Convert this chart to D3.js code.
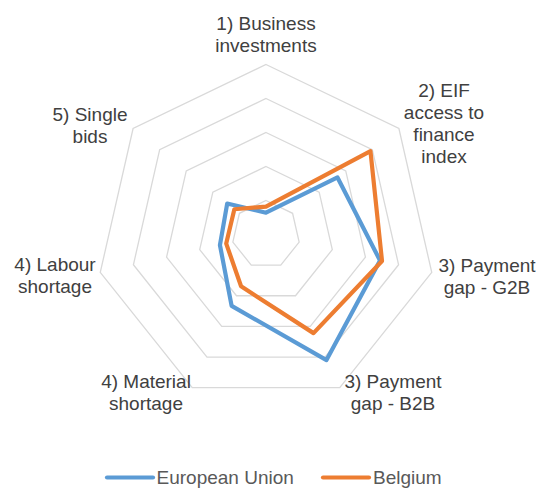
<!DOCTYPE html>
<html>
<head>
<meta charset="utf-8">
<script src="https://cdn.jsdelivr.net/npm/d3@7/dist/d3.min.js"></script>
<style>
  html, body { margin: 0; padding: 0; background: #fff; }
  svg { display: block; font-family: "Liberation Sans", Arial, sans-serif; }
</style>
</head>
<body>
<svg id="chart" width="540" height="488"></svg>
<script>
// axis labels (one entry per spoke, lines split)
const categories = [
  ['1) Business', 'investments'],
  ['2) EIF', 'access to', 'finance', 'index'],
  ['3) Payment', 'gap - G2B'],
  ['3) Payment', 'gap - B2B'],
  ['4) Material', 'shortage'],
  ['4) Labour', 'shortage'],
  ['5) Single', 'bids']
];
const euValues = [0.64, 2.69, 3.44, 4.10, 2.33, 1.39, 1.46];
const beValues = [0.82, 3.93, 3.50, 3.22, 1.69, 1.20, 1.19];
const seriesNames = ['European Union', 'Belgium'];
const gridLevels = [1, 2, 3, 4, 5];

// where the category text sits (centre x, first baseline)
const labelPos = [
  [266, 30], [444, 97], [487, 272], [393, 388], [146, 388], [55, 271], [90, 121]
];

const width = 540, height = 488;
const cx = 266, cy = 234.5, R = 170;
const colors = ['#5b9bd5', '#ed7d31'];

const svg = d3.select('#chart');

const r = d3.scaleLinear().domain([0, 5]).range([0, R]);
const n = categories.length;

const radial = d3.lineRadial()
  .angle((d, i) => i * 2 * Math.PI / n)
  .radius(d => r(d))
  .curve(d3.curveLinearClosed);

const g = svg.append('g').attr('transform', `translate(${cx},${cy})`);

// heptagon grid
g.selectAll('path.grid')
  .data(gridLevels)
  .enter().append('path')
    .attr('class', 'grid')
    .attr('d', lvl => radial(d3.range(n).map(() => lvl)))
    .attr('fill', 'none')
    .attr('stroke', '#d9d9d9')
    .attr('stroke-width', 1.3);

// series
const series = [euValues, beValues];
g.selectAll('path.series')
  .data(series)
  .enter().append('path')
    .attr('class', 'series')
    .attr('d', d => radial(d))
    .attr('fill', 'none')
    .attr('stroke', (d, i) => colors[i])
    .attr('stroke-width', 4.2)
    .attr('stroke-linejoin', 'round');

// category labels
categories.forEach((lines, i) => {
  const t = svg.append('text')
    .attr('x', labelPos[i][0])
    .attr('y', labelPos[i][1])
    .attr('text-anchor', 'middle')
    .attr('font-size', 19)
    .attr('fill', '#404040');
  lines.forEach((s, k) => {
    t.append('tspan')
      .attr('x', labelPos[i][0])
      .attr('dy', k === 0 ? 0 : 22)
      .text(s);
  });
});

// legend (nudged up a little so the descenders stay inside the frame)
const legendItems = [[107, 156.5], [323, 373]];
const ly = 477.5;
seriesNames.forEach((name, i) => {
  const [x0, tx] = legendItems[i];
  svg.append('line')
    .attr('x1', x0).attr('x2', x0 + 46)
    .attr('y1', ly).attr('y2', ly)
    .attr('stroke', colors[i])
    .attr('stroke-width', 4.2)
    .attr('stroke-linecap', 'round');
  svg.append('text')
    .attr('x', tx)
    .attr('y', ly + 6)
    .attr('font-size', 19)
    .attr('fill', '#595959')
    .text(name);
});
</script>
</body>
</html>
